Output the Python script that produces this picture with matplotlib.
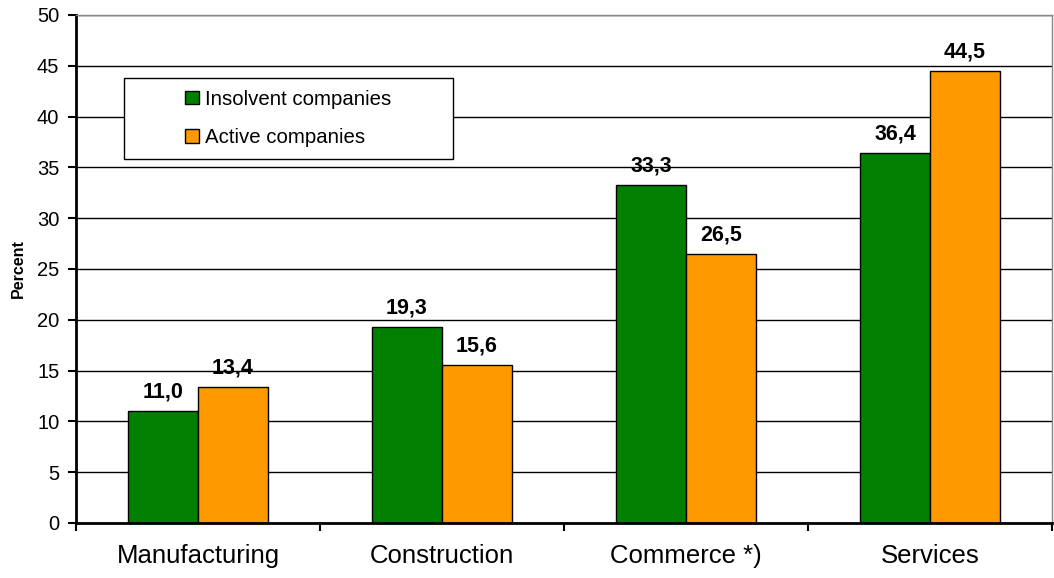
import matplotlib.pyplot as plt
import numpy as np
from matplotlib.patches import Rectangle

sectors = ['Manufacturing', 'Construction', 'Commerce *)', 'Services']
insolvent = [11.0, 19.3, 33.3, 36.4]
active = [13.4, 15.6, 26.5, 44.5]
series_names = ['Insolvent companies', 'Active companies']

plt.rcParams['font.family'] = ['Liberation Sans', 'DejaVu Sans']

fig = plt.figure(figsize=(10.54, 5.78), dpi=100)
ax = fig.add_axes([76 / 1054, 55 / 578, 976 / 1054, 508 / 578])

x = np.arange(len(sectors))
w = 0.287
b1 = ax.bar(x - w / 2, insolvent, w, color='#007f00', edgecolor='black', linewidth=1, label=series_names[0], zorder=2)
b2 = ax.bar(x + w / 2, active, w, color='#ff9900', edgecolor='black', linewidth=1, label=series_names[1], zorder=2)

def fmt(v):
    return f'{v:.1f}'.replace('.', ',')

for bars, vals in ((b1, insolvent), (b2, active)):
    for r, v in zip(bars, vals):
        ax.annotate(fmt(v), (r.get_x() + r.get_width() / 2, v), xytext=(0, 6),
                    textcoords='offset points', ha='center', va='bottom',
                    fontsize=15.5, fontweight='bold')

ax.set_xlim(-0.5, len(sectors) - 0.5)
ax.set_ylim(0, 50)
ax.set_yticks(range(0, 51, 5))
ax.tick_params(axis='y', labelsize=14.5, length=6, width=1.5, pad=6)
ax.set_xticks(np.arange(-0.5, len(sectors), 1))
ax.set_xticklabels([])
ax.set_xticks(x, minor=True)
ax.set_xticklabels(sectors, minor=True, fontsize=18.5)
ax.tick_params(axis='x', which='major', length=6, width=1.5, direction='out')
ax.tick_params(axis='x', which='minor', length=0, pad=15)

ax.yaxis.grid(True, color='black', linewidth=1)
ax.set_axisbelow(True)
for s in ('left', 'bottom'):
    ax.spines[s].set_linewidth(2)
for s in ('top', 'right'):
    ax.spines[s].set_color('#888888')
    ax.spines[s].set_linewidth(1)

ax.set_ylabel('Percent', fontsize=11.5, fontweight='bold', labelpad=8)

# legend box
bx0, by0, bw, bh = 0.049, 0.717, 0.337, 0.159
ax.add_patch(Rectangle((bx0, by0), bw, bh, transform=ax.transAxes,
                       facecolor='white', edgecolor='black', linewidth=1, zorder=3))
leg = ax.legend(loc='center', bbox_to_anchor=(bx0 + bw / 2, by0 + bh / 2), frameon=False,
                fontsize=14.7, handlelength=0.65, handleheight=0.65, handletextpad=0.3,
                labelspacing=0.95, borderaxespad=0)
leg.set_zorder(4)

fig.savefig('out.png', dpi=100)
